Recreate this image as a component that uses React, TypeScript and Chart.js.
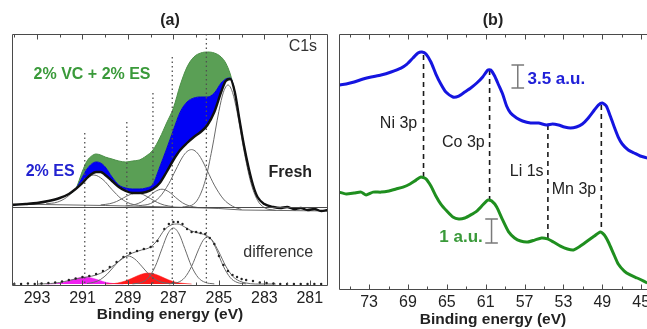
import React, { useEffect, useRef } from "react";
import { Chart, registerables } from "chart.js";

Chart.register(...registerables);

const FONT = "'Liberation Sans', Arial, Helvetica, sans-serif";
const AXIS_COLOR = "#4a4a4a";
const TEXT_COLOR = "#222222";
const FIT_COLOR = "#6a6a6a";

// ---------------- Panel (a): C1s ----------------
const A_RANGE = [280.2, 294.1];
const A_TICKS = [293, 291, 289, 287, 285, 283, 281];
const A_MINOR_TICKS = [294, 292, 290, 288, 286, 284, 282];
const A_Y_RANGE = [0, 252];
const UPPER_OFFSET = 79; // baseline of the C1s spectra (upper frame)
const LOWER_OFFSET = 2; // baseline of the difference spectrum (lower frame)

const C1S_EV = [
  294.1, 293.5, 293.0, 292.5, 292.0, 291.6, 291.3, 291.0, 290.8, 290.6,
  290.4, 290.2, 290.0, 289.7, 289.4, 289.1, 288.8, 288.5, 288.2, 287.9,
  287.6, 287.3, 287.0, 286.7, 286.4, 286.1, 285.8, 285.5, 285.2, 284.9,
  284.7, 284.5, 284.3, 284.1, 283.9, 283.7, 283.5, 283.3, 283.0, 282.6,
  282.3, 282.0, 281.7, 281.4, 281.1, 280.8, 280.5, 280.2,
];
const FRESH = [
  2, 3, 4, 6, 9, 13, 18, 24, 29, 33,
  35, 35, 32, 26, 20, 16, 14, 14, 15, 18,
  24, 35, 47, 57, 64, 70, 75, 82, 95, 115,
  126, 128, 115, 88, 62, 40, 22, 10, 3, 0,
  -1, 0, -2, -1, -3, -2, -4, -3,
];
const ES_2 = [
  2, 3, 4, 6, 9, 13, 18, 30, 38, 43,
  45, 44, 40, 30, 22, 19, 18, 18, 19, 23,
  40, 58, 77, 95, 105, 109, 110, 110, 114, 124,
  128, 129, 115, 88, 62, 40, 22, 10, 3, 0,
  -1, 0, -2, -1, -3, -2, -4, -3,
];
const VC_ES = [
  2, 3, 4, 6, 9, 13, 18, 36, 46, 51,
  53, 52, 50, 48, 46, 45, 46, 47, 51, 57,
  69, 84, 99, 122, 140, 150, 154, 155, 154, 150,
  144, 133, 115, 88, 62, 40, 22, 10, 3, 0,
  -1, 0, -2, -1, -3, -2, -4, -3,
];

const BG_LINE: [number, number][] = [[294.1, 3], [290, 1.5], [287, 0], [285, -1.5], [284, -3], [280.2, -4]];
const FIT_290_5: [number, number][] = [[292.6, 3.2], [292.1, 4.9], [291.7, 9.6], [291.3, 18.1], [290.9, 27.7], [290.5, 32], [290.1, 27.4], [289.7, 17.4], [289.3, 8.4], [288.9, 3.4], [288.4, 1.2]];
const FIT_288_6: [number, number][] = [[290.2, 2.1], [289.8, 3.3], [289.5, 5.5], [289.2, 9.1], [288.9, 12.5], [288.6, 14], [288.3, 12.1], [288.0, 8.3], [287.7, 4.5], [287.4, 1.9], [287.0, 0.3]];
const FIT_287_5: [number, number][] = [[289.1, 1.2], [288.7, 2.4], [288.4, 5.2], [288.1, 10.2], [287.8, 15.5], [287.5, 17.8], [287.2, 15.2], [286.9, 9.5], [286.6, 4.2], [286.3, 1.1], [285.9, -0.6]];
const FIT_286_2: [number, number][] = [[288.5, 1.3], [288.0, 3.5], [287.6, 10.1], [287.2, 23.5], [286.9, 37], [286.6, 49.9], [286.4, 55.5], [286.2, 57.4], [286.0, 55.2], [285.8, 49.3], [285.5, 35.9], [285.2, 21.9], [284.8, 8], [284.4, 0.8], [284.0, -2.6]];
const FIT_284_6: [number, number][] = [[286.6, 0.1], [286.2, 1.7], [285.9, 8.7], [285.6, 26.5], [285.3, 58], [285.0, 95.7], [284.8, 114.8], [284.6, 122], [284.4, 114.6], [284.2, 95.3], [283.9, 56.8], [283.6, 24.9], [283.3, 6.7], [283.0, -0.6], [282.5, -3.4]];

const GUIDE_EV = [290.9, 289.05, 287.9, 287.05, 285.55];
const GUIDE_TOP = [74, 85, 114, 150, 173];

const DIFF_POINTS: [number, number][] = [
  [294.0, 0], [293.7, 0], [293.4, 0.5], [293.1, 0], [292.8, 0.5], [292.5, 1], [292.2, 1.5], [291.9, 2.5], [291.6, 4], [291.3, 5.5],
  [291.0, 7], [290.7, 8], [290.4, 10], [290.1, 13], [289.8, 17], [289.5, 22], [289.2, 27], [288.9, 31], [288.6, 33], [288.3, 35],
  [288.0, 37], [287.7, 43], [287.4, 55], [287.2, 60], [287.0, 62], [286.8, 62], [286.6, 60], [286.4, 55], [286.2, 52], [286.0, 52],
  [285.8, 51], [285.6, 50], [285.4, 46], [285.2, 40], [285.0, 28], [284.8, 19], [284.6, 13], [284.4, 9], [284.2, 7], [284.0, 5],
  [283.8, 4], [283.5, 3], [283.2, 1.5], [282.9, 1], [282.6, 0.5], [282.3, 0], [282.0, 0], [281.7, 0], [281.4, 0], [281.1, 0],
  [280.8, 0], [280.5, 0],
];
const DIFF_FIT: [number, number][] = [[293.0, 0], [292.4, 0.5], [292.0, 1.5], [291.6, 3.5], [291.2, 5.5], [290.8, 7], [290.4, 9], [290.0, 13], [289.6, 19], [289.2, 26], [288.8, 31], [288.4, 34], [288.0, 37], [287.7, 44], [287.4, 54], [287.1, 59], [286.8, 60], [286.5, 57], [286.2, 53], [285.9, 51], [285.6, 49], [285.3, 44], [285.0, 32], [284.7, 18], [284.4, 8], [284.1, 3], [283.8, 1], [283.4, 0], [282.5, 0]];
const DIFF_289: [number, number][] = [[290.8, 0.5], [290.5, 1.7], [290.2, 4.6], [289.9, 10.2], [289.6, 17.9], [289.3, 25], [289.0, 28], [288.7, 25], [288.4, 17.9], [288.1, 10.2], [287.8, 4.6], [287.5, 1.7], [287.2, 0.5]];
const DIFF_287: [number, number][] = [[288.8, 0.1], [288.4, 1.6], [288.1, 6.2], [287.8, 17.5], [287.5, 35.5], [287.25, 50], [287.0, 56], [286.75, 50], [286.5, 35.5], [286.2, 17.5], [285.9, 6.2], [285.6, 1.6], [285.2, 0.1]];
const DIFF_285: [number, number][] = [[287.2, 0.1], [286.8, 1.6], [286.5, 6.4], [286.2, 17.6], [285.9, 34.1], [285.7, 43.4], [285.5, 47], [285.3, 43.4], [285.1, 34.1], [284.8, 17.6], [284.5, 6.4], [284.2, 1.6], [283.8, 0.1]];
const DIFF_RED: [number, number][] = [[290.0, 0], [289.6, 0.5], [289.3, 1.8], [289.0, 4.0], [288.7, 7.0], [288.4, 9.8], [288.1, 11], [287.8, 9.8], [287.5, 7.0], [287.2, 4.0], [286.9, 1.8], [286.6, 0.7], [286.2, 0]];
const DIFF_MAGENTA: [number, number][] = [[292.6, 0], [292.3, 0.2], [292.0, 0.9], [291.7, 2.5], [291.4, 4.7], [291.15, 6.3], [290.9, 7], [290.65, 6.3], [290.4, 4.7], [290.1, 2.5], [289.8, 0.9], [289.5, 0.2], [289.2, 0]];

// ---------------- Panel (b): Ni/Co/Li/Mn ----------------
const B_RANGE = [44.4, 76.1];
const B_TICKS = [73, 69, 65, 61, 57, 53, 49, 45];
const B_MINOR_TICKS = [75, 71, 67, 63, 59, 55, 51, 47];
const BLUE_AU_RANGE = [0, 38.96];
const GREEN_AU_RANGE = [0, 10.67];

const ES_3P: [number, number][] = [
  [76.08, 31.2], [75.36, 31.35], [74.54, 31.65], [73.62, 32.11], [72.79, 32.42], [71.77, 32.72], [70.74, 33.18], [69.72, 33.78], [69.1, 34.39], [68.49, 35.31],
  [67.97, 36.07], [67.56, 36.22], [67.15, 35.92], [66.64, 34.7], [66.13, 32.87], [65.62, 31.35], [65.1, 30.13], [64.38, 29.37], [63.77, 29.52], [63.15, 30.13],
  [62.54, 30.74], [61.92, 31.5], [61.31, 32.42], [60.79, 33.48], [60.49, 33.48], [60.08, 32.57], [59.67, 31.2], [59.26, 29.83], [58.85, 28.0], [58.44, 26.94],
  [57.82, 26.18], [57.21, 25.72], [56.38, 25.41], [55.56, 25.41], [54.74, 25.11], [54.13, 25.26], [53.51, 25.11], [52.9, 24.81], [52.28, 24.65], [51.67, 24.81],
  [51.05, 25.26], [50.44, 26.18], [49.82, 27.39], [49.41, 28.15], [49.0, 28.46], [48.59, 28.0], [48.18, 26.48], [47.77, 24.81], [47.36, 23.28], [46.95, 22.22],
  [46.33, 21.31], [45.72, 20.85], [45.1, 20.39], [44.38, 20.09],
];
const VC_ES_3P: [number, number][] = [
  [76.08, 4.08], [75.36, 4.0], [74.54, 4.04], [73.82, 4.08], [73.31, 3.96], [72.59, 4.08], [71.77, 4.08], [70.95, 4.13], [70.23, 4.21], [69.51, 4.29],
  [68.79, 4.42], [68.18, 4.58], [67.67, 4.71], [67.15, 4.63], [66.64, 4.33], [66.13, 3.92], [65.62, 3.58], [65.0, 3.29], [64.38, 3.04], [63.77, 2.96],
  [63.15, 3.0], [62.54, 3.13], [61.92, 3.29], [61.31, 3.54], [60.79, 3.75], [60.38, 3.71], [59.87, 3.46], [59.26, 2.92], [58.64, 2.42], [58.03, 2.17],
  [57.41, 2.04], [56.69, 2.0], [55.97, 2.08], [55.26, 2.17], [54.64, 2.13], [54.03, 2.0], [53.31, 1.83], [52.59, 1.71], [51.97, 1.67], [51.26, 1.83],
  [50.54, 2.04], [49.82, 2.25], [49.21, 2.42], [48.79, 2.29], [48.38, 2.0], [47.87, 1.54], [47.36, 1.08], [46.74, 0.79], [46.13, 0.63], [45.41, 0.5],
  [44.79, 0.38], [44.38, 0.29],
];
const PEAK_NAMES = ["Ni 3p", "Co 3p", "Li 1s", "Mn 3p"];
const PEAK_EV = [67.4, 60.6, 54.6, 49.1];
const PEAK_TOP = [35.76, 33.48, 25.11, 28.15]; // on the blue a.u. axis
const PEAK_BOTTOM = [17.2, 13.7, 7.91, 8.83];
const SCALE_BAR_EV = [57.7, 60.4];
const SCALE_BAR_LOW = [30.74, 1.96];
const SCALE_BAR_SIZE = [3.5, 1];

// ---------------- helpers ----------------
const pts = (p: [number, number][], off = 0) => p.map(([x, y]) => ({ x, y: y + off }));
const grid = (xs: number[], ys: number[], off = 0) => xs.map((x, i) => ({ x, y: ys[i] + off }));

const curve = (data: any[], color: string, width: number, extra: any = {}) => ({
  type: "line",
  data,
  borderColor: color,
  borderWidth: width,
  pointRadius: 0,
  fill: false,
  cubicInterpolationMode: "monotone",
  ...extra,
});

type Label = { text: string; x: number; y: number; axis: string; align: CanvasTextAlign; color: string; font: string };

function framePlugin(major: number[], minor: number[], showRight: boolean, separator?: number) {
  return {
    id: "frame",
    afterDatasetsDraw(chart: any) {
      const { ctx, chartArea: a, scales } = chart;
      const xs = scales.x;
      const L = Math.round(a.left) + 0.5;
      const R = Math.round(a.right) - 0.5;
      const T = Math.round(a.top) + 0.5;
      const B = Math.round(a.bottom) - 0.5;
      const RR = showRight ? R : a.right + 10;
      ctx.save();
      ctx.strokeStyle = AXIS_COLOR;
      ctx.lineWidth = 1;
      ctx.beginPath();
      ctx.moveTo(L, T);
      ctx.lineTo(RR, T);
      ctx.moveTo(L, T);
      ctx.lineTo(L, B);
      ctx.lineTo(RR, B);
      if (showRight) {
        ctx.moveTo(R, T);
        ctx.lineTo(R, B);
      }
      if (separator !== undefined) {
        const y = Math.round(scales.y.getPixelForValue(separator)) + 0.5;
        ctx.moveTo(L, y);
        ctx.lineTo(R, y);
      }
      const tick = (v: number, len: number) => {
        const x = Math.round(xs.getPixelForValue(v)) + 0.5;
        ctx.moveTo(x, B);
        ctx.lineTo(x, B - len);
        ctx.moveTo(x, T);
        ctx.lineTo(x, T + len);
      };
      major.forEach((v) => tick(v, 5));
      minor.forEach((v) => tick(v, 3));
      ctx.stroke();
      ctx.restore();
    },
  };
}

function labelPlugin(labels: Label[]) {
  return {
    id: "labels",
    afterDraw(chart: any) {
      const { ctx, scales } = chart;
      ctx.save();
      labels.forEach((l) => {
        ctx.font = l.font;
        ctx.fillStyle = l.color;
        ctx.textAlign = l.align;
        ctx.textBaseline = "middle";
        ctx.fillText(l.text, scales.x.getPixelForValue(l.x), scales[l.axis].getPixelForValue(l.y));
      });
      ctx.restore();
    },
  };
}

const xAxis = (range: number[], ticks: number[], height: number, titlePad: number) => ({
  type: "linear",
  min: range[0],
  max: range[1],
  reverse: true,
  afterBuildTicks: (s: any) => {
    s.ticks = ticks.map((v) => ({ value: v }));
  },
  afterFit: (s: any) => {
    s.height = height;
    s.paddingLeft = 0;
    s.paddingRight = 0;
  },
  grid: { display: false, drawTicks: false },
  border: { display: false },
  ticks: { color: TEXT_COLOR, font: { family: FONT, size: 16 }, padding: 3, maxRotation: 0, autoSkip: false },
  title: {
    display: true,
    text: "Binding energy (eV)",
    color: TEXT_COLOR,
    font: { family: FONT, size: 15.5, weight: "bold" },
    padding: { top: 0, bottom: titlePad },
  },
});

const panelTitle = (text: string) => ({
  display: true,
  text,
  color: TEXT_COLOR,
  font: { family: FONT, size: 16, weight: "bold" },
  padding: { top: 11.4, bottom: 3.4 },
});

function configA(): any {
  const datasets: any[] = [
    curve(grid(C1S_EV, VC_ES, UPPER_OFFSET), "#4b8f47", 1, { fill: 1, backgroundColor: "#5a9f55", order: 10 }),
    curve(grid(C1S_EV, ES_2, UPPER_OFFSET), "#0000d8", 1, { fill: 2, backgroundColor: "#0000f5", order: 9 }),
    curve(grid(C1S_EV, FRESH, UPPER_OFFSET), "#111111", 2.4, { order: 1 }),
    curve(pts(BG_LINE, UPPER_OFFSET), FIT_COLOR, 1, { order: 6, cubicInterpolationMode: "default", tension: 0 }),
    curve(pts(FIT_290_5, UPPER_OFFSET), FIT_COLOR, 1, { order: 6 }),
    curve(pts(FIT_288_6, UPPER_OFFSET), FIT_COLOR, 1, { order: 6 }),
    curve(pts(FIT_287_5, UPPER_OFFSET), FIT_COLOR, 1, { order: 6 }),
    curve(pts(FIT_286_2, UPPER_OFFSET), FIT_COLOR, 1, { order: 6 }),
    curve(pts(FIT_284_6, UPPER_OFFSET), FIT_COLOR, 1, { order: 6 }),
    curve(pts(DIFF_RED, LOWER_OFFSET), "#ff1010", 0.5, { fill: { value: LOWER_OFFSET }, backgroundColor: "#ff1a1a", order: 8 }),
    curve(pts(DIFF_MAGENTA, LOWER_OFFSET), "#ee10ee", 0.5, { fill: { value: LOWER_OFFSET }, backgroundColor: "#f020f0", order: 8 }),
    curve(pts(DIFF_289, LOWER_OFFSET), FIT_COLOR, 1, { order: 6 }),
    curve(pts(DIFF_287, LOWER_OFFSET), FIT_COLOR, 1, { order: 6 }),
    curve(pts(DIFF_285, LOWER_OFFSET), FIT_COLOR, 1, { order: 6 }),
    curve(pts(DIFF_FIT, LOWER_OFFSET), FIT_COLOR, 1, { order: 5 }),
    {
      type: "line",
      data: pts(DIFF_POINTS, LOWER_OFFSET),
      showLine: false,
      pointRadius: 1.2,
      pointBackgroundColor: "#222",
      pointBorderWidth: 0,
      order: 2,
    },
  ];
  GUIDE_EV.forEach((ev, i) => {
    datasets.push({
      type: "line",
      data: [
        { x: ev, y: GUIDE_TOP[i] + UPPER_OFFSET },
        { x: ev, y: LOWER_OFFSET },
      ],
      borderColor: "#505050",
      borderWidth: 1.3,
      borderDash: [1.5, 3],
      pointRadius: 0,
      fill: false,
      order: 3,
    });
  });
  const big = (w: string) => `${w} 16px ${FONT}`;
  const labels: Label[] = [
    { text: "C1s", x: 280.68, y: 239, axis: "y", align: "right", color: "#333", font: big("normal") },
    { text: "2% VC + 2% ES", x: 293.15, y: 211, axis: "y", align: "left", color: "#3a9a3a", font: big("bold") },
    { text: "2% ES", x: 293.5, y: 114, axis: "y", align: "left", color: "#2323d0", font: big("bold") },
    { text: "Fresh", x: 280.9, y: 113, axis: "y", align: "right", color: "#222", font: big("bold") },
    { text: "difference", x: 280.85, y: 33, axis: "y", align: "right", color: "#333", font: big("normal") },
  ];
  return {
    type: "line",
    data: { datasets },
    options: {
      responsive: false,
      animation: false,
      devicePixelRatio: 1,
      events: [],
      layout: { padding: { left: 12, right: 5, top: 0, bottom: 0 } },
      scales: {
        x: xAxis(A_RANGE, A_TICKS, 43, 5),
        y: { type: "linear", display: false, min: A_Y_RANGE[0], max: A_Y_RANGE[1] },
      },
      plugins: {
        legend: { display: false },
        tooltip: { enabled: false },
        title: panelTitle("(a)"),
      },
    },
    plugins: [framePlugin(A_TICKS, A_MINOR_TICKS, true, UPPER_OFFSET), labelPlugin(labels)],
  };
}

function configB(): any {
  const datasets: any[] = [
    curve(pts(ES_3P), "#1515e0", 3, { yAxisID: "yB", order: 2, cubicInterpolationMode: "default", tension: 0.2 }),
    curve(pts(VC_ES_3P), "#1f8f1f", 3, { yAxisID: "yG", order: 2, cubicInterpolationMode: "default", tension: 0.2 }),
  ];
  PEAK_EV.forEach((ev, i) => {
    datasets.push({
      type: "line",
      data: [
        { x: ev, y: PEAK_TOP[i] },
        { x: ev, y: PEAK_BOTTOM[i] },
      ],
      yAxisID: "yB",
      borderColor: "#1a1a1a",
      borderWidth: 1.6,
      borderDash: [5, 4],
      pointRadius: 0,
      fill: false,
      order: 3,
    });
  });
  SCALE_BAR_EV.forEach((ev, i) => {
    const lo = SCALE_BAR_LOW[i];
    const hi = lo + SCALE_BAR_SIZE[i];
    datasets.push({
      type: "line",
      data: [
        { x: ev - 0.65, y: hi },
        { x: ev + 0.65, y: hi },
        { x: ev, y: null },
        { x: ev, y: hi },
        { x: ev, y: lo },
        { x: ev, y: null },
        { x: ev - 0.65, y: lo },
        { x: ev + 0.65, y: lo },
      ],
      yAxisID: i === 0 ? "yB" : "yG",
      borderColor: "#7a7a7a",
      borderWidth: 1.5,
      pointRadius: 0,
      spanGaps: false,
      fill: false,
      order: 3,
    });
  });
  const f = `16px ${FONT}`;
  const labels: Label[] = [
    { text: PEAK_NAMES[0], x: 68.05, y: 25.26, axis: "yB", align: "right", color: "#222", font: f },
    { text: PEAK_NAMES[1], x: 61.1, y: 22.37, axis: "yB", align: "right", color: "#222", font: f },
    { text: PEAK_NAMES[2], x: 55.05, y: 17.96, axis: "yB", align: "right", color: "#222", font: f },
    { text: PEAK_NAMES[3], x: 54.2, y: 15.22, axis: "yB", align: "left", color: "#222", font: f },
    { text: "3.5 a.u.", x: 56.7, y: 32.11, axis: "yB", align: "left", color: "#2020d8", font: `bold 17px ${FONT}` },
    { text: "1 a.u.", x: 61.3, y: 2.21, axis: "yG", align: "right", color: "#3a9a3a", font: `bold 17px ${FONT}` },
  ];
  return {
    type: "line",
    data: { datasets },
    options: {
      responsive: false,
      animation: false,
      devicePixelRatio: 1,
      events: [],
      layout: { padding: { left: 6, right: 0, top: 0, bottom: 0 } },
      scales: {
        x: xAxis(B_RANGE, B_TICKS, 39, 0),
        yB: { type: "linear", axis: "y", display: false, min: BLUE_AU_RANGE[0], max: BLUE_AU_RANGE[1] },
        yG: { type: "linear", axis: "y", display: false, min: GREEN_AU_RANGE[0], max: GREEN_AU_RANGE[1] },
      },
      plugins: {
        legend: { display: false },
        tooltip: { enabled: false },
        title: panelTitle("(b)"),
      },
    },
    plugins: [framePlugin(B_TICKS, B_MINOR_TICKS, false), labelPlugin(labels)],
  };
}

export default function App() {
  const refA = useRef<HTMLCanvasElement>(null);
  const refB = useRef<HTMLCanvasElement>(null);
  useEffect(() => {
    const a = new Chart(refA.current as HTMLCanvasElement, configA());
    const b = new Chart(refB.current as HTMLCanvasElement, configB());
    return () => {
      a.destroy();
      b.destroy();
    };
  }, []);
  return (
    <div style={{ position: "absolute", left: 0, top: 0, width: 647, height: 329, overflow: "hidden", background: "#fff" }}>
      <canvas ref={refA} width={333} height={329} style={{ position: "absolute", left: 0, top: 0, width: 333, height: 329 }} />
      <canvas ref={refB} width={314} height={329} style={{ position: "absolute", left: 333, top: 0, width: 314, height: 329 }} />
    </div>
  );
}
